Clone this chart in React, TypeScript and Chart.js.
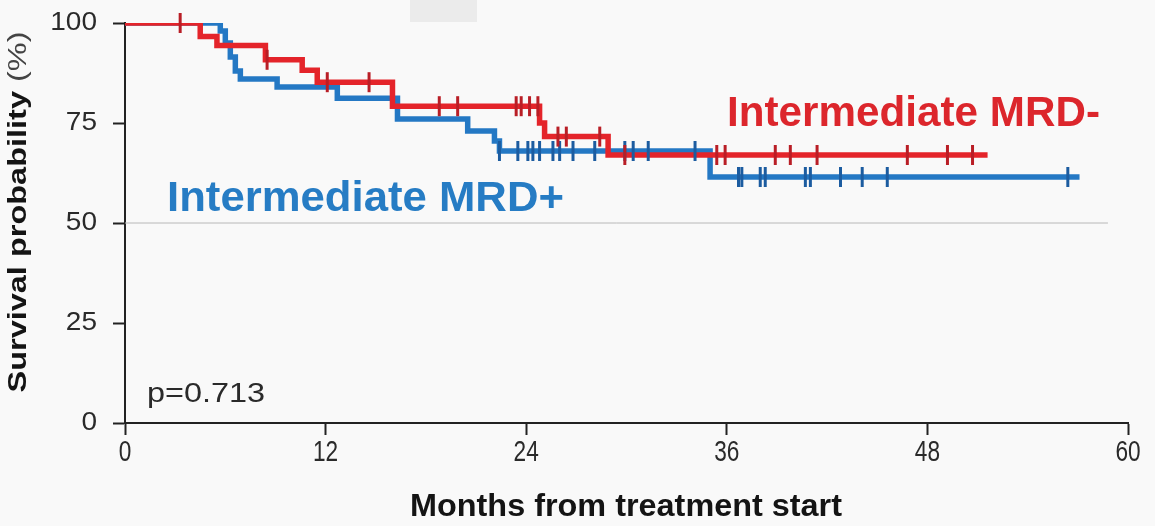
import React, { useEffect, useRef } from "react";
import { Chart, registerables } from "chart.js";

Chart.register(...registerables);

// ---- data ----
const xTicks = [0, 12, 24, 36, 48, 60];
const yTicks = [0, 25, 50, 75, 100];

// Intermediate MRD- (red): event times (months) and survival (%) after each step
const mrdNegTimes = [0, 4.5, 5.5, 8.4, 10.6, 11.5, 16.0, 24.8, 25.1, 28.9, 51.6];
const mrdNegSurv = [100, 96.6, 94.4, 90.8, 88.2, 85.2, 79.2, 75, 71.6, 67, 67];
const mrdNegCensor = [3.3, 8.5, 12.1, 14.6, 18.8, 19.9, 23.4, 23.7, 24.2, 24.7, 25.9, 26.4, 28.4, 29.9, 35.4, 35.9, 38.9, 39.8, 41.4, 46.8, 49.2, 50.7];

// Intermediate MRD+ (blue)
const mrdPosTimes = [0, 5.7, 6.0, 6.3, 6.6, 6.9, 9.1, 12.7, 16.3, 20.5, 22.1, 22.4, 35.0, 57.1];
const mrdPosSurv = [100, 98, 95, 91.5, 88, 86, 84, 81.2, 76, 73, 70.5, 68, 61.5, 61.5];
const mrdPosCensor = [22.4, 23.5, 24.1, 24.4, 24.8, 25.6, 26.0, 26.8, 28.1, 29.9, 30.4, 31.3, 34.1, 36.7, 36.9, 38.0, 38.3, 40.7, 41.0, 42.8, 44.1, 45.6, 56.4];

const refLineY = 50;
const refLineEnd = 58.8;

const pValueText = "p=0.713";
const labelNeg = "Intermediate MRD-";
const labelPos = "Intermediate MRD+";
const xTitle = "Months from treatment start";
const yTitleBold = "Survival probability";
const yTitleNormal = " (%)";

// ---- styles ----
const RED = "rgb(228,36,42)";
const RED_DARK = "rgb(185,30,38)";
const BLUE = "rgb(36,120,196)";
const BLUE_DARK = "rgb(28,92,160)";
const FONT = '"Liberation Sans", Arial, sans-serif';

function stepValue(times: number[], surv: number[], t: number) {
  let v = surv[0];
  for (let i = 0; i < times.length; i++) if (times[i] <= t) v = surv[i];
  return v;
}

function drawScaled(
  ctx: CanvasRenderingContext2D,
  text: string,
  font: string,
  x: number,
  y: number,
  sx: number,
  align: "left" | "center" | "right",
  baseline: CanvasTextBaseline,
  color: string
) {
  ctx.save();
  ctx.font = font;
  ctx.fillStyle = color;
  ctx.textBaseline = baseline;
  const w = ctx.measureText(text).width * sx;
  let left = x;
  if (align === "center") left = x - w / 2;
  if (align === "right") left = x - w;
  ctx.translate(left, y);
  ctx.scale(sx, 1);
  ctx.textAlign = "left";
  ctx.fillText(text, 0, 0);
  ctx.restore();
}

function fitText(
  ctx: CanvasRenderingContext2D,
  text: string,
  font: string,
  x: number,
  y: number,
  targetW: number,
  align: "left" | "center" | "right",
  color: string
) {
  ctx.save();
  ctx.font = font;
  const w = ctx.measureText(text).width;
  ctx.restore();
  drawScaled(ctx, text, font, x, y, targetW / w, align, "alphabetic", color);
}

const decorPlugin = {
  id: "decor",
  beforeDraw(chart: any) {
    const ctx = chart.ctx as CanvasRenderingContext2D;
    ctx.save();
    ctx.fillStyle = "#f9f9f9";
    ctx.fillRect(0, 0, chart.width, chart.height);
    ctx.fillStyle = "#ebebeb";
    ctx.fillRect(410, 0, 67, 22);
    ctx.restore();
  },
  afterDraw(chart: any) {
    const ctx = chart.ctx as CanvasRenderingContext2D;
    const xs = chart.scales.x;
    const ys = chart.scales.y;
    // tick labels
    yTicks.forEach((v) => {
      drawScaled(ctx, String(v), `25px ${FONT}`, 97, ys.getPixelForValue(v), 1.12, "right", "middle", "#2a2a2a");
    });
    xTicks.forEach((v) => {
      drawScaled(ctx, String(v), `29px ${FONT}`, xs.getPixelForValue(v), 453, 0.78, "center", "middle", "#2a2a2a");
    });
    // axis titles
    fitText(ctx, xTitle, `bold 32px ${FONT}`, 626, 516, 432, "center", "#141414");
    // y title, rotated
    ctx.save();
    ctx.font = `bold 26px ${FONT}`;
    const wb = ctx.measureText(yTitleBold).width;
    ctx.font = `26px ${FONT}`;
    const wn = ctx.measureText(yTitleNormal).width;
    const sx = 361 / (wb + wn);
    ctx.translate(26, 212);
    ctx.rotate(-Math.PI / 2);
    ctx.scale(sx, 1);
    ctx.textBaseline = "alphabetic";
    ctx.textAlign = "left";
    const start = -(wb + wn) / 2;
    ctx.font = `bold 26px ${FONT}`;
    ctx.fillStyle = "#141414";
    ctx.fillText(yTitleBold, start, 0);
    ctx.font = `26px ${FONT}`;
    ctx.fillStyle = "#444";
    ctx.fillText(yTitleNormal, start + wb, 0);
    ctx.restore();
    // annotations
    fitText(ctx, pValueText, `28px ${FONT}`, 147, 402, 118, "left", "#2a2a2a");
    fitText(ctx, labelNeg, `bold 42px ${FONT}`, 727, 126, 373, "left", "rgb(220,38,44)");
    fitText(ctx, labelPos, `bold 42px ${FONT}`, 167, 211, 397, "left", "rgb(38,124,196)");
  },
};

export default function App() {
  const canvasRef = useRef<HTMLCanvasElement | null>(null);

  useEffect(() => {
    if (!canvasRef.current) return;
    const negPts = mrdNegTimes.map((t, i) => ({ x: t, y: mrdNegSurv[i] }));
    const posPts = mrdPosTimes.map((t, i) => ({ x: t, y: mrdPosSurv[i] }));
    const negC = mrdNegCensor.map((t) => ({ x: t, y: stepValue(mrdNegTimes, mrdNegSurv, t) }));
    const posC = mrdPosCensor.map((t) => ({ x: t, y: stepValue(mrdPosTimes, mrdPosSurv, t) }));

    const axisCommon = {
      grid: {
        drawOnChartArea: false,
        drawTicks: true,
        tickLength: 12,
        tickColor: "#222",
        tickWidth: 2,
      },
      border: { display: true, color: "#222", width: 2 },
    };

    const chart = new Chart(canvasRef.current, {
      type: "line",
      data: {
        datasets: [
          {
            label: "MRD- censored",
            data: negC,
            showLine: false,
            pointStyle: "line",
            rotation: 90,
            pointRadius: 10,
            pointBorderWidth: 3,
            pointBorderColor: RED_DARK,
            pointBackgroundColor: RED_DARK,
            clip: false,
            order: 0,
          } as any,
          {
            label: "MRD+ censored",
            data: posC,
            showLine: false,
            pointStyle: "line",
            rotation: 90,
            pointRadius: 10,
            pointBorderWidth: 3,
            pointBorderColor: BLUE_DARK,
            pointBackgroundColor: BLUE_DARK,
            clip: false,
            order: 1,
          } as any,
          {
            label: labelNeg,
            data: negPts,
            stepped: "before",
            borderColor: RED,
            borderWidth: 5.5,
            pointRadius: 0,
            fill: false,
            order: 2,
          },
          {
            label: labelPos,
            data: posPts,
            stepped: "before",
            borderColor: BLUE,
            borderWidth: 5.5,
            pointRadius: 0,
            fill: false,
            order: 3,
          },
          {
            label: "50% reference",
            data: [
              { x: 0, y: refLineY },
              { x: refLineEnd, y: refLineY },
            ],
            borderColor: "#b8b8b8",
            borderWidth: 1,
            pointRadius: 0,
            order: 4,
          },
        ],
      },
      options: {
        animation: false,
        responsive: false,
        maintainAspectRatio: false,
        layout: { padding: { top: 23, right: 27, left: 0, bottom: 0 } },
        plugins: { legend: { display: false }, tooltip: { enabled: false }, title: { display: false } },
        scales: {
          x: {
            type: "linear",
            min: 0,
            max: 60,
            afterBuildTicks: (scale: any) => {
              scale.ticks = xTicks.map((v) => ({ value: v }));
            },
            ticks: { display: false },
            afterFit: (scale: any) => {
              scale.height = 103;
            },
            ...axisCommon,
          },
          y: {
            type: "linear",
            min: 0,
            max: 100,
            afterBuildTicks: (scale: any) => {
              scale.ticks = yTicks.map((v) => ({ value: v }));
            },
            ticks: { display: false },
            afterFit: (scale: any) => {
              scale.width = 125;
            },
            ...axisCommon,
          },
        },
      } as any,
      plugins: [decorPlugin],
    });
    return () => chart.destroy();
  }, []);

  return (
    <div style={{ position: "absolute", left: 0, top: 0, width: 1155, height: 526 }}>
      <canvas ref={canvasRef} width={1155} height={526} style={{ display: "block" }} />
    </div>
  );
}
